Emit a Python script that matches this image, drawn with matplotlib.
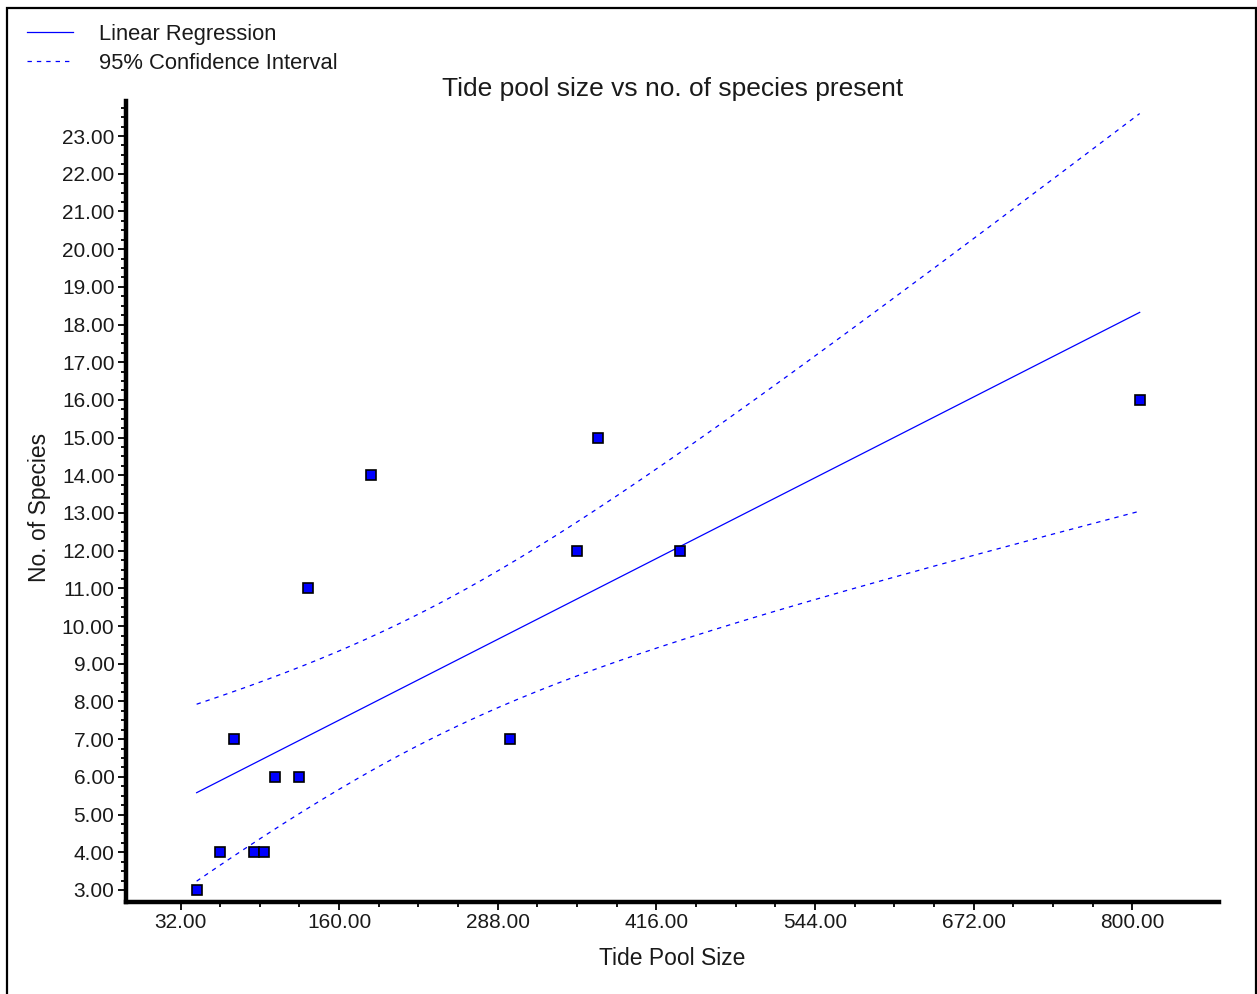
import numpy as np
import matplotlib.pyplot as plt
from matplotlib.patches import Rectangle

plt.rcParams['font.family'] = ['Liberation Sans', 'DejaVu Sans']

# values
pool_size = [45, 64, 75, 91, 99, 108, 128, 135, 186, 298, 352, 369, 435, 806]
species = [3, 4, 7, 4, 4, 6, 6, 11, 14, 7, 12, 15, 12, 16]
x_ticks = [32, 160, 288, 416, 544, 672, 800]
y_ticks = list(range(3, 24))

# least squares fit and 95% CI of the mean
x = np.array(pool_size, dtype=float)
y = np.array(species, dtype=float)
n = len(x)
slope, intercept = np.polyfit(x, y, 1)
xs = np.linspace(x.min(), x.max(), 200)
fit = intercept + slope * xs
resid = y - (intercept + slope * x)
s = np.sqrt(np.sum(resid ** 2) / (n - 2))
t_crit = 2.179  # t(0.975, df=12)
sxx = np.sum((x - x.mean()) ** 2)
half = t_crit * s * np.sqrt(1 / n + (xs - x.mean()) ** 2 / sxx)

W, H = 1257, 994
fig = plt.figure(figsize=(W / 100, H / 100), dpi=100)
ax = fig.add_axes([125.5 / W, 1 - 902 / H, (1219 - 125.5) / W, (902 - 101) / H])

blue = '#0000ff'
ax.plot(xs, fit, color=blue, lw=0.9, label='Linear Regression')
ax.plot(xs, fit + half, color=blue, lw=0.9, dashes=(3.5, 4),
        label='95% Confidence Interval')
ax.plot(xs, fit - half, color=blue, lw=0.9, dashes=(3.5, 4))
ax.plot(x, y, 's', ms=6.8, mfc=blue, mec='black', mew=1.2, zorder=5)

ax.set_xlim(-12.4, 870)
ax.set_ylim(2.68, 23.93)
ax.set_xticks(x_ticks)
ax.set_xticks(np.arange(32, 801, 32), minor=True)
ax.set_yticks(y_ticks)
ax.set_yticks(np.arange(3, 23.8, 0.25), minor=True)
ax.set_xticklabels(['%.2f' % v for v in x_ticks])
ax.set_yticklabels(['%.2f' % v for v in y_ticks])
ax.tick_params(which='both', direction='out', width=1.3, color='black',
               labelsize=15, labelcolor='#1a1a1a', pad=2)
ax.tick_params(which='major', length=6)
ax.tick_params(which='minor', length=3.5)

for side in ['top', 'right']:
    ax.spines[side].set_visible(False)
for side in ['left', 'bottom']:
    ax.spines[side].set_linewidth(3.2)
    ax.spines[side].set_color('black')

ax.set_title('Tide pool size vs no. of species present', fontsize=19,
             color='#1a1a1a', pad=3)
ax.set_xlabel('Tide Pool Size', fontsize=16.5, color='#1a1a1a')
ax.set_ylabel('No. of Species', fontsize=16.5, color='#1a1a1a')
ax.xaxis.set_label_coords(0.5, -0.056)
ax.yaxis.set_label_coords(-0.068, 0.492)

fig.legend(loc='upper left', bbox_to_anchor=(27 / W, 1 - 24 / H),
           frameon=False, fontsize=15.8, handlelength=2.1,
           handletextpad=1.2, borderaxespad=0, borderpad=0,
           labelspacing=0.36, labelcolor='#1a1a1a')

fig.add_artist(Rectangle((6.5 / W, -0.05), (1255.5 - 6.5) / W,
                         1.05 - 7.5 / H, transform=fig.transFigure,
                         fill=False, ec='black', lw=1.6))

fig.savefig('out.png', dpi=100)
